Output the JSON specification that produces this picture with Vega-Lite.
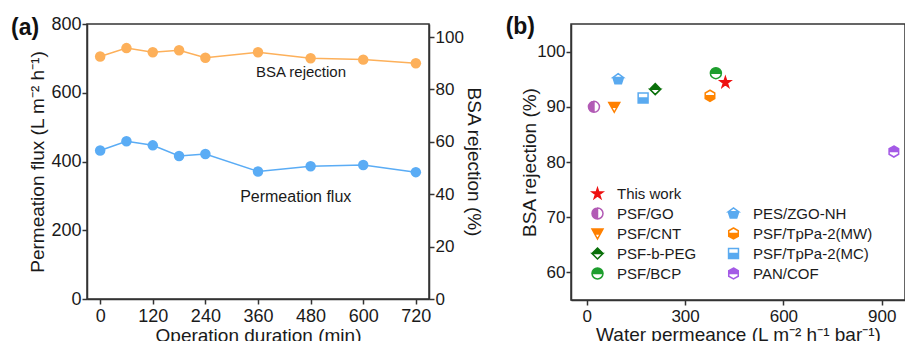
{
  "$schema": "https://vega.github.io/schema/vega-lite/v6.json",
  "background": "white",
  "padding": {"left": 10, "top": 14, "right": 0, "bottom": 0},
  "spacing": 20,
  "config": {
    "font": "Liberation Sans",
    "view": {"stroke": "#333333", "strokeWidth": 1.5},
    "axis": {
      "grid": false,
      "domainColor": "#333333",
      "domainWidth": 1.5,
      "tickColor": "#333333",
      "tickWidth": 1.5,
      "tickSize": 5,
      "labelFontSize": 18,
      "labelColor": "#1a1a1a",
      "titleFontSize": 19,
      "titleFontWeight": "normal",
      "titleColor": "#1a1a1a",
      "labelPadding": 2
    }
  },
  "hconcat": [
    {
      "width": 342,
      "height": 275,
      "title": {"text": "(a)", "anchor": "start", "frame": "bounds", "offset": -25, "dx": -18, "fontSize": 23, "fontWeight": "bold", "color": "#111111"},
      "data": {"values": [
        {"time": 0, "flux": 432, "rejection": 92.6},
        {"time": 60, "flux": 459, "rejection": 95.8},
        {"time": 120, "flux": 447, "rejection": 94.2},
        {"time": 180, "flux": 416, "rejection": 95.0},
        {"time": 240, "flux": 422, "rejection": 92.1},
        {"time": 360, "flux": 371, "rejection": 94.2},
        {"time": 480, "flux": 386, "rejection": 91.9},
        {"time": 600, "flux": 390, "rejection": 91.4},
        {"time": 720, "flux": 369, "rejection": 90.0}
      ]},
      "encoding": {
        "x": {"field": "time", "type": "quantitative", "scale": {"domain": [-30, 750], "nice": false},
              "axis": {"values": [0, 120, 240, 360, 480, 600, 720], "title": "Operation duration (min)", "titlePadding": 1, "labelPadding": 3}}
      },
      "layer": [
        {
          "layer": [
            {
              "mark": {"type": "line", "color": "#5aacf5", "strokeWidth": 1.5, "point": {"filled": true, "size": 110, "color": "#5aacf5", "opacity": 1}},
              "encoding": {
                "y": {"field": "flux", "type": "quantitative", "scale": {"domain": [0, 800], "nice": false},
                      "axis": {"values": [0, 200, 400, 600, 800], "title": "Permeation flux (L m⁻² h⁻¹)", "titlePadding": 3, "labelPadding": 1}}
              }
            },
            {
              "data": {"values": [{"label": "Permeation flux", "time": 446, "flux": 298}]},
              "mark": {"type": "text", "fontSize": 16, "color": "#1a1a1a"},
              "encoding": {
                "y": {"field": "flux", "type": "quantitative", "title": "Permeation flux (L m⁻² h⁻¹)"},
                "text": {"field": "label"}
              }
            }
          ]
        },
        {
          "layer": [
            {
              "mark": {"type": "line", "color": "#fdb05a", "strokeWidth": 1.5, "point": {"filled": true, "size": 110, "color": "#fdb05a", "opacity": 1}},
              "encoding": {
                "y": {"field": "rejection", "type": "quantitative", "scale": {"domain": [0, 105], "nice": false},
                      "axis": {"orient": "right", "values": [0, 20, 40, 60, 80, 100], "title": "BSA rejection (%)", "titlePadding": 0, "labelPadding": 1, "labelFontSize": 17}}
              }
            },
            {
              "data": {"values": [{"label": "BSA rejection", "time": 458, "rejection": 86.7}]},
              "mark": {"type": "text", "fontSize": 15, "color": "#1a1a1a"},
              "encoding": {
                "y": {"field": "rejection", "type": "quantitative", "title": "BSA rejection (%)"},
                "text": {"field": "label"}
              }
            }
          ]
        }
      ],
      "resolve": {"scale": {"y": "independent"}}
    },
    {
      "width": 334,
      "height": 276,
      "title": {"text": "(b)", "anchor": "start", "frame": "bounds", "offset": -15, "dx": -15, "fontSize": 23, "fontWeight": "bold", "color": "#111111"},
      "data": {"values": [
        {"material": "This work", "perm": 423, "rej": 94.4},
        {"material": "PSF/GO", "perm": 22, "rej": 90.0},
        {"material": "PSF/CNT", "perm": 84, "rej": 90.0},
        {"material": "PSF-b-PEG", "perm": 209, "rej": 93.2},
        {"material": "PSF/BCP", "perm": 394, "rej": 96.1},
        {"material": "PES/ZGO-NH", "perm": 96, "rej": 95.0},
        {"material": "PSF/TpPa-2(MW)", "perm": 376, "rej": 92.0},
        {"material": "PSF/TpPa-2(MC)", "perm": 172, "rej": 91.6},
        {"material": "PAN/COF", "perm": 937, "rej": 81.9}
      ]},
      "mark": {"type": "point", "filled": true, "opacity": 1, "size": 121, "strokeWidth": 1.5},
      "encoding": {
        "x": {"field": "perm", "type": "quantitative", "scale": {"domain": [-48, 971], "nice": false},
              "axis": {"values": [0, 300, 600, 900], "title": "Water permeance (L m⁻² h⁻¹ bar⁻¹)", "titlePadding": 1, "labelPadding": 3, "labelFontSize": 17}},
        "y": {"field": "rej", "type": "quantitative", "scale": {"domain": [55, 105], "nice": false},
              "axis": {"values": [60, 70, 80, 90, 100], "title": "BSA rejection (%)", "titlePadding": -3, "labelPadding": 1, "labelFontSize": 17}},
        "fill": {"field": "material", "type": "nominal",
          "scale": {"domain": ["This work", "PSF/GO", "PSF/CNT", "PSF-b-PEG", "PSF/BCP", " ", "PES/ZGO-NH", "PSF/TpPa-2(MW)", "PSF/TpPa-2(MC)", "PAN/COF"],
                    "range": ["#ee1111", "#b25bb5", "#ff8000", "#0a700a", "#1e9e2e", "rgba(0,0,0,0)", "#5aaaf0", "#ff8400", "#5aaaf0", "#a45ae6"]},
          "legend": {"title": null, "orient": "none", "legendX": 503, "legendY": 162, "columns": 2, "columnPadding": 28, "rowPadding": 3, "labelFontSize": 15, "labelColor": "#1a1a1a", "symbolSize": 121, "symbolStrokeWidth": 1.5, "labelOffset": 12, "symbolOpacity": 1}},
        "stroke": {"field": "material", "type": "nominal",
          "scale": {"domain": ["This work", "PSF/GO", "PSF/CNT", "PSF-b-PEG", "PSF/BCP", " ", "PES/ZGO-NH", "PSF/TpPa-2(MW)", "PSF/TpPa-2(MC)", "PAN/COF"],
                    "range": ["#ee1111", "#b25bb5", "#ff8000", "#0a700a", "#1e9e2e", "rgba(0,0,0,0)", "#5aaaf0", "#ff8400", "#5aaaf0", "#a45ae6"]},
          "legend": {"title": null, "orient": "none", "legendX": 503, "legendY": 162, "columns": 2, "columnPadding": 28, "rowPadding": 3, "labelFontSize": 15, "labelColor": "#1a1a1a", "symbolSize": 121, "symbolStrokeWidth": 1.5, "labelOffset": 12, "symbolOpacity": 1}},
        "shape": {"field": "material", "type": "nominal",
          "scale": {"domain": ["This work", "PSF/GO", "PSF/CNT", "PSF-b-PEG", "PSF/BCP", " ", "PES/ZGO-NH", "PSF/TpPa-2(MW)", "PSF/TpPa-2(MC)", "PAN/COF"],
                    "range": [
                      "M0,-1L0.225,-0.309L0.951,-0.309L0.363,0.118L0.588,0.809L0,0.382L-0.588,0.809L-0.363,0.118L-0.951,-0.309L-0.225,-0.309Z",
                      "M-1,0A1,1,0,1,1,1,0A1,1,0,1,1,-1,0ZM0,-1L0,1A1,1,0,0,0,0,-1Z",
                      "M-1,-0.8L1,-0.8L0,1ZM0.5,0.1L-0.5,0.1L0,1Z",
                      "M0,-1L1,0L0,1L-1,0ZM1,0L-1,0L0,1Z",
                      "M-1,0A1,1,0,1,1,1,0A1,1,0,1,1,-1,0ZM1,0L-1,0A1,1,0,0,0,1,0Z",
                      "M0,0L0,0Z",
                      "M0,-1L0.951,-0.309L0.588,0.809L-0.588,0.809L-0.951,-0.309ZM0,-1L-0.951,-0.309L0.951,-0.309Z",
                      "M0,-1L0.866,-0.5L0.866,0.5L0,1L-0.866,0.5L-0.866,-0.5ZM0,-1L-0.866,-0.5L-0.866,0L0.866,0L0.866,-0.5Z",
                      "M-0.9,-0.9L0.9,-0.9L0.9,0.9L-0.9,0.9ZM-0.9,-0.9L-0.9,0L0.9,0L0.9,-0.9Z",
                      "M0,-1L0.866,-0.5L0.866,0.5L0,1L-0.866,0.5L-0.866,-0.5ZM0.866,0L-0.866,0L-0.866,0.5L0,1L0.866,0.5Z"
                    ]},
          "legend": {"title": null, "orient": "none", "legendX": 503, "legendY": 162, "columns": 2, "columnPadding": 28, "rowPadding": 3, "labelFontSize": 15, "labelColor": "#1a1a1a", "symbolSize": 121, "symbolStrokeWidth": 1.5, "labelOffset": 12, "symbolOpacity": 1}}
      }
    }
  ]
}
